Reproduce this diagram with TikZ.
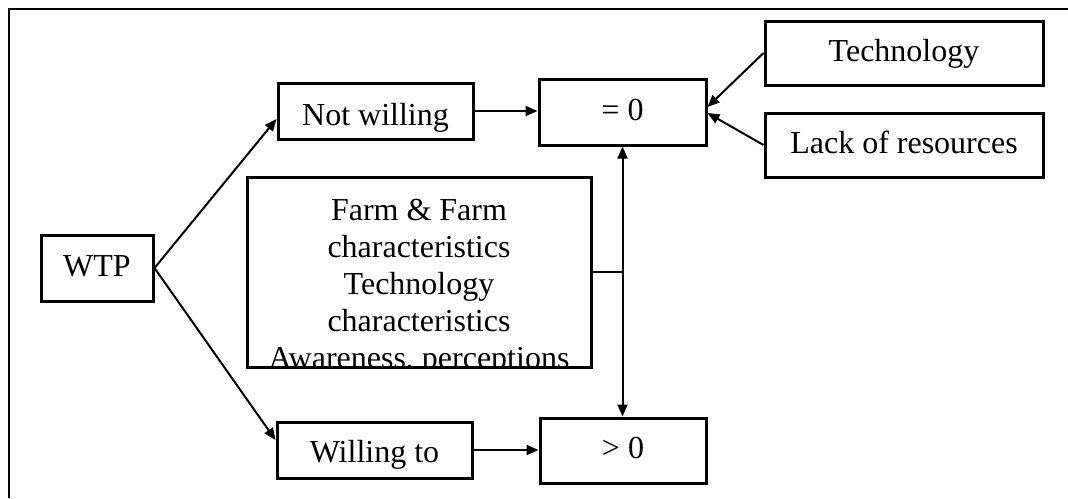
\documentclass[tikz,border=0pt]{standalone}
\usepackage{fontspec}
\setmainfont{Liberation Serif}
\usetikzlibrary{arrows.meta}

\begin{document}
\begin{tikzpicture}
[
    x=1pt, y=-1pt,
    box/.style={draw, line width=3pt, inner sep=0pt, text height=23pt, text depth=7pt, font=\fontsize{32}{37}\selectfont},
    link/.style={line width=2pt, -{Triangle[length=12pt,width=10pt]}},
]
\useasboundingbox (0,0) rectangle (1068,498);
\draw [line width=2.4pt] (1068,9) -- (9,9) -- (9,498);
\node [box, minimum width=112, minimum height=66] (wtp) at (97,268) {WTP};
\node [box, minimum width=195, minimum height=56, text height=28pt, text depth=0pt] (notw) at (375.5,111) {Not willing};
\node [box, minimum width=195, minimum height=56, text height=24pt, text depth=0pt] (will) at (374.5,450) {Willing to};
\node [box, minimum width=167, minimum height=66] (zero) at (622.5,112) {= 0};
\node [box, minimum width=166, minimum height=65] (pos) at (623,450.5) {> 0};
\node [box, minimum width=278, minimum height=64] (tech) at (904,53) {Technology};
\node [box, minimum width=278, minimum height=64] (lack) at (904,145) {Lack of resources};
\node [box, minimum width=344, minimum height=190] (fac) at (419,272) {};
\begin{scope}
\clip ([shift={(1.5pt,2pt)}]fac.south west) rectangle ([shift={(-1.5pt,-1.5pt)}]fac.north east);
\node [anchor=north, align=center, inner sep=0pt, font=\fontsize{32}{37}\selectfont] (factxt) at (419,199)
{Farm \& Farm\\characteristics\\Technology\\characteristics\\Awareness, perceptions};
\end{scope}
\draw [link] (wtp.east) -- ([yshift=-8pt]notw.west);
\draw [link] (wtp.east) -- ([yshift=10pt]will.west);
\draw [link] (notw.east) -- (notw.east -| zero.west);
\draw [link] (will.east) -- (will.east -| pos.west);
\draw [link] (tech.west) -- ([yshift=5pt]zero.east);
\draw [link] (lack.west) -- ([yshift=-1pt]zero.east);
\draw [link, {Triangle[length=12pt,width=10pt]}-{Triangle[length=12pt,width=10pt]}] (zero.south) -- (zero.south |- pos.north);
\draw [line width=2pt] (fac.east) -- (fac.east -| zero.south);
\end{tikzpicture}
\end{document}
